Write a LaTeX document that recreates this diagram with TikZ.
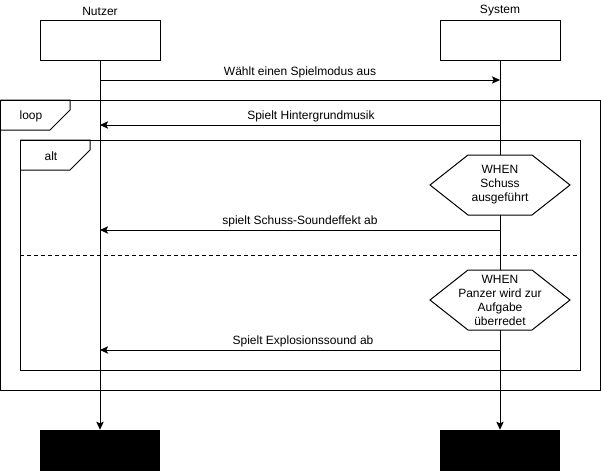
\documentclass[tikz,border=0pt]{standalone}
\usepackage{fontspec}
\setmainfont{Liberation Sans}
\usetikzlibrary{arrows.meta,calc}
\begin{document}
\begin{tikzpicture}[x=0.75pt,y=-0.75pt,
  every node/.style={font=\fontsize{9pt}{10.5pt}\selectfont, inner sep=0pt},
  line/.style={line width=0.75pt, draw=black},
  actorbox/.style={line, minimum width=90pt, minimum height=30pt, fill=white},
  endbox/.style={fill=black, draw=none, minimum width=90pt, minimum height=30.75pt},
  msg/.style={line, -{Stealth[length=6pt,width=5.5pt,inset=1.2pt]}},
  life/.style={line, -{Stealth[length=6pt,width=5.5pt,inset=1.2pt]}},
  frame/.style={line},
  hexfill/.style={line, fill=white},
  txt/.style={align=center}
]
\useasboundingbox (0,0) rectangle (601,471);

% frames
\draw[frame] (0.5,100) rectangle (600,390);
\draw[frame] (0.5,100) -- (70,100) -- (70,110) -- (50,130) -- (0.5,130);
\node (looplbl) at (31,116) {loop};
\draw[frame] (20,140) rectangle (580,370);
\draw[frame] (20,140) -- (90,140) -- (90,150) -- (70,170) -- (20,170);
\node (altlbl) at (51,156) {alt};
\draw[frame, dashed, dash pattern=on 3pt off 2.25pt] (20,255) -- (580,255);

% actors
\node[actorbox] (nutzer) at (100,40) {};
\node[actorbox] (system) at (500,40) {};
\node (nutzerlbl) at (100,11) {Nutzer};
\node (systemlbl) at (500,11) {System};
\node[endbox] (nutzerend) at (100,450.5) {};
\node[endbox] (systemend) at (500,450.5) {};

% lifelines
\draw[life] (nutzer.south) -- (nutzerend.north);
\draw[life] (system.south) -- (systemend.north);

% message points
\coordinate (n1) at (100,80);  \coordinate (s1) at (500,80);
\coordinate (n2) at (100,125); \coordinate (s2) at (500,125);
\coordinate (n3) at (100,230); \coordinate (s3) at (500,230);
\coordinate (n4) at (100,350); \coordinate (s4) at (500,350);

\draw[msg] (n1) -- (s1);
\node (m1) at (300,72) {Wählt einen Spielmodus aus};
\draw[msg] (s2) -- (n2);
\node (m2) at (311,116) {Spielt Hintergrundmusik};
\draw[msg] (s3) -- (n3);
\node (m3) at (300,221) {spielt Schuss-Soundeffekt ab};
\draw[msg] (s4) -- (n4);
\node (m4) at (303,341) {Spielt Explosionssound ab};

% guards
\coordinate (h1c) at (500,185);
\draw[hexfill] ($(h1c)+(-70,0)$) -- ($(h1c)+(-32,-30)$) -- ($(h1c)+(32,-30)$) -- ($(h1c)+(70,0)$) -- ($(h1c)+(32,30)$) -- ($(h1c)+(-32,30)$) -- cycle;
\node[txt] (h1) at (h1c) {WHEN\\Schuss\\ausgeführt};

\coordinate (h2c) at (500,300);
\draw[hexfill] ($(h2c)+(-70,0)$) -- ($(h2c)+(-32,-30)$) -- ($(h2c)+(32,-30)$) -- ($(h2c)+(70,0)$) -- ($(h2c)+(32,30)$) -- ($(h2c)+(-32,30)$) -- cycle;
\node[txt] (h2) at (h2c) {WHEN\\Panzer wird zur\\Aufgabe\\überredet};
\end{tikzpicture}
\end{document}
